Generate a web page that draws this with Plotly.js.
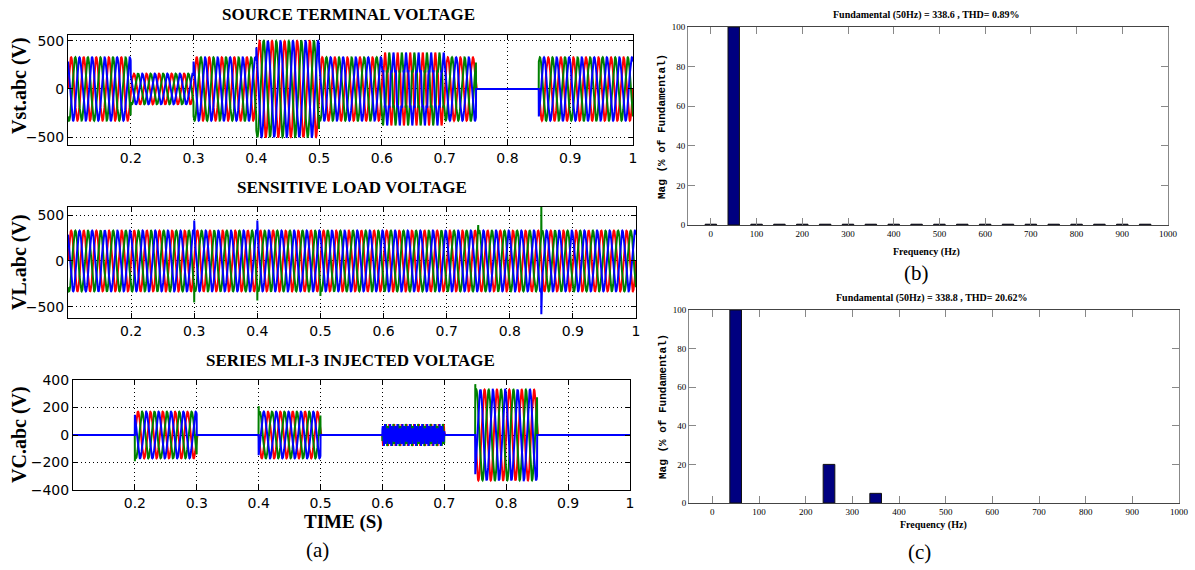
<!DOCTYPE html>
<html>
<head>
<meta charset="utf-8">
<script src="https://cdn.plot.ly/plotly-3.0.1.min.js"></script>
<style>html,body{margin:0;padding:0;background:#fff;}#chart{width:1195px;height:570px;}</style>
</head>
<body>
<div id="chart"></div>
<script>
// ---------------- DATA ----------------
// time axis of the waveform panels
const timeStart = 0.1;
const timeEnd = 1.0;
const timeTicks = [0.2, 0.3, 0.4, 0.5, 0.6, 0.7, 0.8, 0.9, 1.0];
const timeTickText = ["0.2", "0.3", "0.4", "0.5", "0.6", "0.7", "0.8", "0.9", "1"];
const fundamentalHz = 50;
const nominalPeak = 330;
const phaseNames = ["a", "b", "c"];
const phaseColors = ["#ff0000", "#008000", "#0000ff"];

// Source terminal voltage: segments (start, end, fundamental peak, 5th & 7th harmonic fraction)
const vsSegStart = [0.10, 0.20, 0.30, 0.40, 0.50, 0.60, 0.70, 0.75, 0.85];
const vsSegEnd   = [0.20, 0.30, 0.40, 0.50, 0.60, 0.70, 0.75, 0.85, 1.00];
const vsSegAmp   = [330, 160, 330, 500, 330, 330, 330, 0, 330];
const vsSegH5    = [0, 0, 0, 0, 0, 0.20, 0, 0, 0];
const vsSegH7    = [0, 0, 0, 0, 0, 0.05, 0, 0, 0];

// Sensitive load voltage: regulated
const vlSegStart = [0.10];
const vlSegEnd   = [1.00];
const vlSegAmp   = [330];
const vlSegH5    = [0];
const vlSegH7    = [0];
const vlSpikeTime  = [0.30, 0.30, 0.40, 0.40, 0.50, 0.75, 0.85, 0.85];
const vlSpikePhase = [2, 1, 2, 1, 1, 1, 1, 2];
const vlSpikeValue = [440, -450, 440, -430, -380, 390, 600, -580];

// Series MLI-3 injected voltage
const vcSegStart = [0.10, 0.20, 0.30, 0.40, 0.50, 0.60, 0.70, 0.75, 0.85];
const vcSegEnd   = [0.20, 0.30, 0.40, 0.50, 0.60, 0.70, 0.75, 0.85, 1.00];
const vcSegAmp   = [0, 170, 0, -170, 0, 0, 0, 330, 0];
const vcSegH5    = [0, 0, 0, 0, 0, -0.20, 0, 0, 0];
const vcSegH7    = [0, 0, 0, 0, 0, -0.05, 0, 0, 0];
const vcSpikeTime  = [0.20, 0.40, 0.75];
const vcSpikePhase = [1, 1, 1];
const vcSpikeValue = [-190, 210, 370];

// FFT spectra
const fftFreqB = [0, 50, 100, 150, 200, 250, 300, 350, 400, 450, 500, 550, 600, 650, 700, 750, 800, 850, 900, 950];
const fftMagB  = [0.4, 100, 0.4, 0.4, 0.4, 0.4, 0.4, 0.4, 0.4, 0.4, 0.4, 0.4, 0.4, 0.4, 0.4, 0.4, 0.4, 0.4, 0.4, 0.4];
const fftFreqC = [50, 250, 350];
const fftMagC  = [100, 20, 5];
const freqTicks = [0, 100, 200, 300, 400, 500, 600, 700, 800, 900, 1000];
const magTicks = [0, 20, 40, 60, 80, 100];

// ---------------- BUILD ----------------
const W = 1195, H = 570;
const dx = p => p / W;
const dy = p => 1 - p / H;
const sampleStep = 0.0002;
const phaseShift = [0, -2 * Math.PI / 3, 2 * Math.PI / 3];

const tArr = [];
for (let i = 0; ; i++) { const t = timeStart + i * sampleStep; if (t > timeEnd + 1e-9) break; tArr.push(+t.toFixed(5)); }

function buildPhase(st, en, amp, h5, h7, k, spT, spP, spV) {
  const y = tArr.map(t => {
    let idx = st.length - 1;
    for (let i = 0; i < st.length; i++) { if (t >= st[i] - 1e-9 && t < en[i] - 1e-9) { idx = i; break; } }
    const th = 2 * Math.PI * fundamentalHz * t + phaseShift[k];
    return amp[idx] * Math.sin(th) + nominalPeak * h5[idx] * Math.sin(5 * th) + nominalPeak * h7[idx] * Math.sin(7 * th);
  });
  if (spT) {
    for (let s = 0; s < spT.length; s++) {
      if (spP[s] !== k) continue;
      const i = Math.round((spT[s] - timeStart) / sampleStep);
      if (i >= 0 && i < y.length) y[i] = spV[s];
    }
  }
  return y;
}

const traces = [];
const panels = [
  {st: vsSegStart, en: vsSegEnd, amp: vsSegAmp, h5: vsSegH5, h7: vsSegH7, ax: ["x", "y"]},
  {st: vlSegStart, en: vlSegEnd, amp: vlSegAmp, h5: vlSegH5, h7: vlSegH7, ax: ["x2", "y2"], spT: vlSpikeTime, spP: vlSpikePhase, spV: vlSpikeValue},
  {st: vcSegStart, en: vcSegEnd, amp: vcSegAmp, h5: vcSegH5, h7: vcSegH7, ax: ["x3", "y3"], spT: vcSpikeTime, spP: vcSpikePhase, spV: vcSpikeValue}
];
panels.forEach(p => {
  for (let k = 0; k < 3; k++) {
    traces.push({
      type: "scatter", mode: "lines", x: tArr,
      y: buildPhase(p.st, p.en, p.amp, p.h5, p.h7, k, p.spT, p.spP, p.spV),
      xaxis: p.ax[0], yaxis: p.ax[1], name: phaseNames[k],
      line: {color: phaseColors[k], width: 2}, showlegend: false, hoverinfo: "skip"
    });
  }
});
traces.push({type: "bar", x: fftFreqB, y: fftMagB, width: 25, xaxis: "x4", yaxis: "y4",
  marker: {color: "#000080", line: {color: "#111", width: 1}}, showlegend: false});
traces.push({type: "bar", x: fftFreqC, y: fftMagC, width: 25, xaxis: "x5", yaxis: "y5",
  marker: {color: "#000080", line: {color: "#111", width: 1}}, showlegend: false});

const tickFontL = {family: "DejaVu Sans", size: 14, color: "#000"};
const gridDots = "1px,3px";
function timeAxis(d) {
  return {domain: d, range: [timeStart, timeEnd], tickvals: timeTicks, ticktext: timeTickText,
    showgrid: true, gridcolor: "#000", griddash: gridDots, gridwidth: 1, zeroline: false,
    showline: true, linecolor: "#000", linewidth: 1, mirror: "ticks", ticks: "inside", ticklen: 5,
    tickcolor: "#000", tickfont: tickFontL, fixedrange: true};
}
function voltAxis(d, r, tv) {
  return {domain: d, range: r, tickvals: tv, showgrid: true, gridcolor: "#000", griddash: gridDots, gridwidth: 1,
    zeroline: false, showline: true, linecolor: "#000", linewidth: 1, mirror: "ticks", ticks: "inside",
    ticklen: 5, tickcolor: "#000", tickfont: tickFontL, fixedrange: true};
}
const tickFontR = {family: "Liberation Serif", size: 9, color: "#000"};
function freqAxis(d) {
  return {domain: d, range: [-50, 1000], tickvals: freqTicks, showgrid: false, zeroline: false,
    showline: true, linecolor: "#444", linewidth: 1, mirror: "ticks", ticks: "inside", ticklen: 7,
    tickcolor: "#888", tickfont: tickFontR, fixedrange: true};
}
function magAxis(d) {
  return {domain: d, range: [0, 100], tickvals: magTicks, showgrid: false, zeroline: false,
    showline: true, linecolor: "#888", linewidth: 1, mirror: "ticks", ticks: "inside", ticklen: 7,
    tickcolor: "#888", tickfont: tickFontR, fixedrange: true};
}

const serifB = (s) => ({family: "Liberation Serif", size: s, color: "#000", weight: "bold"});
const monoB = (s) => ({family: "Liberation Mono", size: s, color: "#000", weight: "bold"});
function ann(text, x, y, font, extra) {
  return Object.assign({text: text, xref: "paper", yref: "paper", x: dx(x), y: dy(y), showarrow: false,
    font: font, xanchor: "center", yanchor: "middle"}, extra || {});
}

const layout = {
  width: W, height: H, margin: {l: 0, r: 0, t: 0, b: 0}, paper_bgcolor: "#fff", plot_bgcolor: "#fff",
  showlegend: false, bargap: 0,
  xaxis: Object.assign(timeAxis([dx(68), dx(633)]), {anchor: "y"}),
  yaxis: Object.assign(voltAxis([dy(145), dy(35)], [-583, 562], [-500, 0, 500]), {anchor: "x"}),
  xaxis2: Object.assign(timeAxis([dx(68), dx(636)]), {anchor: "y2"}),
  yaxis2: Object.assign(voltAxis([dy(318), dy(207)], [-620, 587], [-500, 0, 500]), {anchor: "x2"}),
  xaxis3: Object.assign(timeAxis([dx(73), dx(630)]), {anchor: "y3"}),
  yaxis3: Object.assign(voltAxis([dy(490), dy(380)], [-400, 400], [-400, -200, 0, 200, 400]), {anchor: "x3"}),
  xaxis4: Object.assign(freqAxis([dx(688), dx(1168)]), {anchor: "y4"}),
  yaxis4: Object.assign(magAxis([dy(225), dy(27)]), {anchor: "x4"}),
  xaxis5: Object.assign(freqAxis([dx(689), dx(1179)]), {anchor: "y5"}),
  yaxis5: Object.assign(magAxis([dy(503), dy(310)]), {anchor: "x5"}),
  annotations: [
    ann("SOURCE TERMINAL VOLTAGE", 349, 15, serifB(17)),
    ann("SENSITIVE LOAD VOLTAGE", 352, 187, serifB(17)),
    ann("SERIES MLI-3 INJECTED VOLTAGE", 350, 360, serifB(17)),
    ann("Vst.abc (V)", 19, 86, serifB(20), {textangle: -90}),
    ann("VL.abc (V)", 19, 262, serifB(20), {textangle: -90}),
    ann("VC.abc (V)", 19, 435, serifB(20), {textangle: -90}),
    ann("TIME (S)", 343, 522, serifB(19)),
    ann("(a)", 317, 550, {family: "Liberation Serif", size: 21, color: "#000"}),
    ann("Fundamental (50Hz) = 338.6 , THD= 0.89%", 926, 15, serifB(10)),
    ann("Mag (% of Fundamental)", 662, 127, monoB(11), {textangle: -90}),
    ann("Frequency (Hz)", 926, 252, serifB(10)),
    ann("(b)", 916, 273, {family: "Liberation Serif", size: 21, color: "#000"}),
    ann("Fundamental (50Hz) = 338.8 , THD= 20.62%", 932, 298, serifB(10)),
    ann("Mag (% of Fundamental)", 663, 407, monoB(11), {textangle: -90}),
    ann("Frequency (Hz)", 933, 525, serifB(10)),
    ann("(c)", 919, 552, {family: "Liberation Serif", size: 21, color: "#000"})
  ]
};

Plotly.newPlot("chart", traces, layout, {staticPlot: true, displayModeBar: false});
</script>
</body>
</html>
